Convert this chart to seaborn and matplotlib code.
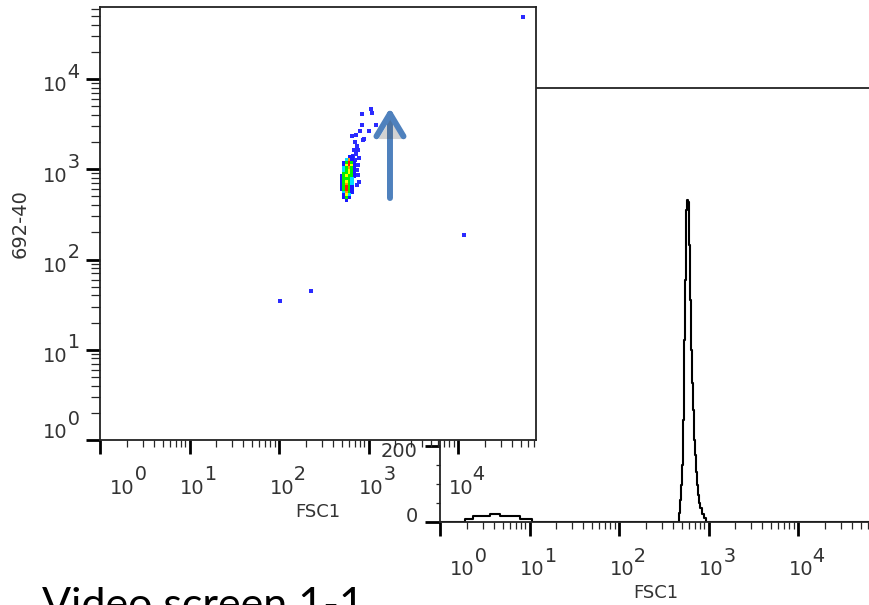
"""
Flow cytometry style composite: 692-40 vs FSC1 pseudocolor dot plot
overlaid on an FSC1 count histogram.
"""

import matplotlib

matplotlib.use("Agg")
import matplotlib.patheffects as pe
import matplotlib.pyplot as plt
import pandas as pd
import seaborn as sns
from matplotlib.patches import ArrowStyle
from matplotlib.ticker import MultipleLocator, NullFormatter
from matplotlib.transforms import ScaledTranslation

sns.set_style("white")
plt.rcParams["font.family"] = ["DejaVu Sans"]

# ---------------- data ----------------
# FSC1 histogram (left bin edge, count)
hist_fsc = [1.0, 1.90, 2.34, 3.62, 4.68, 7.83, 10.7,
            468, 480, 493, 506, 519, 532, 546, 560, 575, 590, 605, 621,
            637, 654, 671, 688, 706, 725, 744, 763, 783, 804, 846, 891,
            938, 150000]
hist_count = [0, 7, 15, 20, 15, 7, 0,
              22, 57, 96, 149, 267, 477, 635, 819, 846, 840, 727, 583,
              451, 364, 293, 214, 175, 130, 96, 70, 49, 36, 20, 9,
              0, 0]

# pseudocolor core: density level per cell (0 empty .. 6 densest)
core_fsc = [496, 531, 569, 610, 653, 700]
core_692 = [1365, 1274, 1189, 1109, 1035, 966, 902, 841, 785,
            733, 684, 638, 596, 556, 519, 484, 452]
core_level = [
    [0, 0, 0, 1, 1, 0],
    [0, 0, 2, 5, 1, 0],
    [0, 1, 3, 6, 3, 1],
    [0, 1, 4, 6, 4, 1],
    [0, 2, 3, 5, 3, 1],
    [0, 2, 3, 4, 3, 1],
    [0, 3, 3, 4, 3, 1],
    [1, 3, 4, 3, 3, 1],
    [1, 3, 3, 3, 2, 0],
    [1, 3, 4, 3, 2, 0],
    [1, 3, 5, 3, 2, 0],
    [1, 3, 6, 3, 1, 0],
    [1, 3, 6, 3, 1, 0],
    [0, 2, 5, 3, 1, 0],
    [0, 1, 4, 2, 0, 0],
    [0, 1, 3, 1, 0, 0],
    [0, 0, 1, 0, 0, 0],
]

# sparse single events
sparse_fsc = [654, 725, 868, 804, 1013, 846, 1213, 846, 1066, 1094,
              707, 744, 689, 763, 725, 671, 783, 763, 744, 763, 783,
              744, 707, 891, 53200, 11670, 228, 103]
sparse_692 = [2336, 2397, 2109, 2653, 2653, 3092, 3092, 4097, 4653, 4200,
              2004, 1811, 1634, 1634, 1476, 1403, 1333, 1114, 981, 863, 722,
              669, 1266, 2163, 48600, 187, 44.8, 34.7]

level_colors = {1: "#1a1aff", 2: "#00e0ff", 3: "#00f000",
                4: "#ffff00", 5: "#ff9900", 6: "#ff1a00"}

decade_ticks = [1, 10, 100, 1000, 10000]
decade_exps = [0, 1, 2, 3, 4]
count_ticks = [0, 200, 400, 600, 800, 1000]

# arrow annotation (FSC1, from, to)
arrow_fsc, arrow_from, arrow_to = 1738, 480, 4774

# ---------------- build tables ----------------
rows = []
for i, yv in enumerate(core_692):
    for j, xv in enumerate(core_fsc):
        if core_level[i][j] > 0:
            rows.append((xv, yv, core_level[i][j]))
core = pd.DataFrame(rows, columns=["FSC1", "692-40", "level"])
sparse = pd.DataFrame({"FSC1": sparse_fsc, "692-40": sparse_692})

# ---------------- figure ----------------
W, H = 869, 605
fig = plt.figure(figsize=(W / 100, H / 100), dpi=100)
txt = "#333333"


def px_shift(dx, dy):
    return ScaledTranslation(dx / 100, dy / 100, fig.dpi_scale_trans)


def decade_labels(exps):
    return [f"\u2007\u2007{e}\n10" for e in exps]


# histogram axes (behind)
ax_h = fig.add_axes([440 / W, (H - 521.5) / H, 460 / W, 433.5 / H])
ax_h.set_zorder(1)
ax_h.set_xscale("log")
sns.lineplot(x=hist_fsc, y=hist_count, drawstyle="steps-post", estimator=None,
             sort=False, color="black", lw=1.5, ax=ax_h)
ax_h.set_xlim(1, 10 ** (460 / 89.5))
ax_h.set_ylim(0, 1141)

# dot plot axes (front)
ax_s = fig.add_axes([100 / W, (H - 440) / H, 436 / W, 433 / H])
ax_s.set_zorder(2)
ax_s.set_facecolor("white")
ax_s.set_xscale("log")
ax_s.set_yscale("log")
sns.scatterplot(data=sparse, x="FSC1", y="692-40", color="#2a2aff", marker="s",
                s=6.5, linewidth=0, ax=ax_s)
sns.scatterplot(data=core, x="FSC1", y="692-40", hue="level",
                palette=level_colors, marker="s", s=5.5, linewidth=0,
                legend=False, ax=ax_s)
ax_s.set_xlim(1, 10 ** (436 / 89.5))
ax_s.set_ylim(1, 10 ** (433 / 90.25))

ann = ax_s.annotate("", xy=(arrow_fsc, arrow_to), xytext=(arrow_fsc, arrow_from),
                    arrowprops=dict(arrowstyle=ArrowStyle("->", head_length=0.45,
                                                          head_width=0.27),
                                    mutation_scale=36, lw=4.3, color="#4f81bd",
                                    shrinkA=0, shrinkB=0))
ann.arrow_patch.set_path_effects([pe.SimplePatchShadow(offset=(1.5, -2), alpha=0.25),
                                  pe.Normal()])

for ax in (ax_h, ax_s):
    for sp in ax.spines.values():
        sp.set_visible(True)
        sp.set_color("#222222")
        sp.set_linewidth(1.3)

# ticks
ax_s.tick_params(axis="x", which="major", direction="out", length=10, width=2,
                 pad=8, colors="black", labelcolor=txt, bottom=True)
ax_s.tick_params(axis="x", which="minor", direction="out", length=5, width=0.9,
                 bottom=True)
ax_s.tick_params(axis="y", which="major", direction="out", length=10, width=2,
                 pad=4.5, colors="black", labelcolor=txt, left=True)
ax_s.tick_params(axis="y", which="minor", direction="out", length=6.5, width=0.9,
                 left=True)
ax_h.tick_params(axis="x", which="major", direction="out", length=10, width=2,
                 pad=8, colors="black", labelcolor=txt, bottom=True)
ax_h.tick_params(axis="x", which="minor", direction="out", length=5, width=0.9,
                 bottom=True)
ax_h.tick_params(axis="y", which="major", direction="out", length=11, width=2,
                 pad=5, colors="black", labelcolor=txt, left=True)
ax_h.tick_params(axis="y", which="minor", direction="out", length=3, width=0.9,
                 left=True)

lab_kw = dict(fontsize=14, linespacing=0.65, ma="left")
ax_s.set_xticks(decade_ticks, labels=decade_labels(decade_exps), ha="center", **lab_kw)
ax_s.set_yticks(decade_ticks, labels=decade_labels(decade_exps), ha="right",
                va="center", **lab_kw)
ax_h.set_xticks(decade_ticks, labels=decade_labels(decade_exps), ha="center", **lab_kw)
ax_h.set_yticks(count_ticks, labels=[str(c) for c in count_ticks], fontsize=14)
ax_h.yaxis.set_minor_locator(MultipleLocator(50))
for ax in (ax_s, ax_h):
    ax.xaxis.set_minor_formatter(NullFormatter())
ax_s.yaxis.set_minor_formatter(NullFormatter())

# label offsets (first decade label is pushed away from the corner)
x_shift = [28, 9, 9, 9, 9]
for ax in (ax_s, ax_h):
    for tick, dx in zip(ax.xaxis.get_major_ticks(), x_shift):
        tick.label1.set_transform(tick.label1.get_transform() + px_shift(dx, 0))
for tick, dy in zip(ax_s.yaxis.get_major_ticks(), [14, 0, 0, 0, 0]):
    tick.label1.set_transform(tick.label1.get_transform() + px_shift(0, dy))
for tick, dy in zip(ax_h.yaxis.get_major_ticks(), [7, -4, 0, 0, 0, 0]):
    tick.label1.set_transform(tick.label1.get_transform() + px_shift(0, dy))

# axis labels
ax_s.set_xlabel("FSC1", fontsize=13, color=txt)
ax_s.xaxis.set_label_coords(0.5, (440 - 503) / 433)
ax_s.set_ylabel("692-40", fontsize=14, color=txt)
ax_s.yaxis.set_label_coords((30 - 100) / 436, 0.5)
ax_h.set_xlabel("FSC1", fontsize=13, color=txt)
ax_h.xaxis.set_label_coords((656 - 440) / 460, (521.5 - 584) / 433.5)
ax_h.set_ylabel("")

# caption runs off the bottom edge, as on the source slide
fig.text(42 / W, -13 / H, "Video screen 1-1", fontsize=31, family="Lato",
         va="baseline", ha="left", color="black")

fig.savefig("out.png", dpi=100)
